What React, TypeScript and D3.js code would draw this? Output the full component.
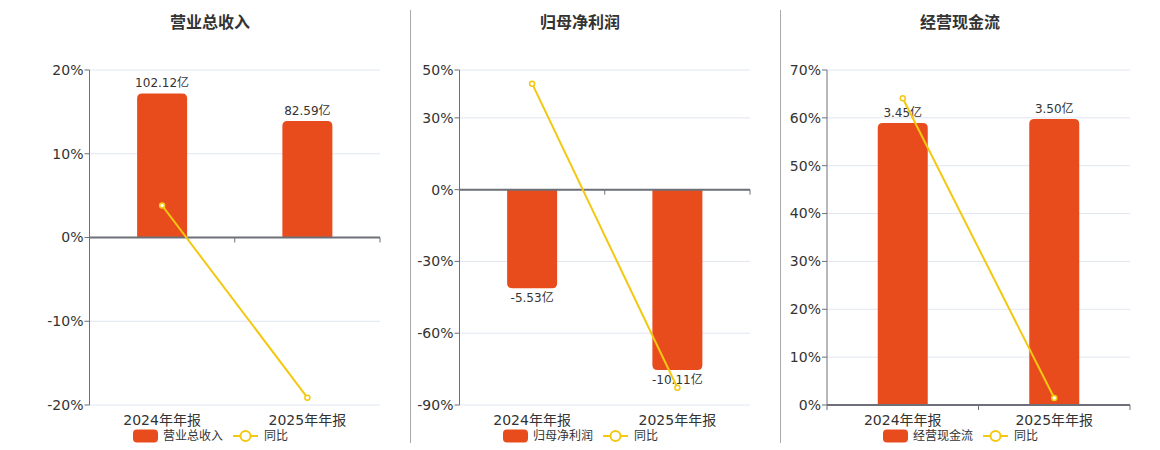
import React from 'react';
import * as d3 from 'd3';

const categories = ['2024年年报', '2025年年报'];

const revenueValues = [102.12, 82.59];
const revenueYoy = [3.82, -19.12];
const revenueTicks = [-20, -10, 0, 10, 20];

const profitValues = [-5.53, -10.11];
const profitYoy = [44.3, -82.8];
const profitTicks = [-90, -60, -30, 0, 30, 50];

const cashValues = [3.45, 3.5];
const cashYoy = [64.1, 1.45];
const cashTicks = [0, 10, 20, 30, 40, 50, 60, 70];

const BAR_COLOR = '#E84C1D';
const LINE_COLOR = '#F3C811';
const AXIS_COLOR = '#6E7079';
const GRID_COLOR = '#E0E6F1';
const TEXT_COLOR = '#333';
const FONT = 'DejaVu Sans, "Noto Sans CJK SC", sans-serif';

interface PanelProps {
  title: string;
  values: number[];
  yoy: number[];
  ticks: number[];
  barDomain: [number, number];
  left: number;
  right: number;
  center: number;
}

const TOP = 70;
const BOTTOM = 405;
const BAR_W = 50;
const R = 5;

// bar with rounded corners at the far end
const barPath = (x: number, y0: number, y1: number) => {
  const w = BAR_W;
  if (y1 < y0) {
    const r = Math.min(R, y0 - y1);
    return `M${x},${y0}V${y1 + r}Q${x},${y1} ${x + r},${y1}H${x + w - r}Q${x + w},${y1} ${x + w},${y1 + r}V${y0}Z`;
  }
  const r = Math.min(R, y1 - y0);
  return `M${x},${y0}V${y1 - r}Q${x},${y1} ${x + r},${y1}H${x + w - r}Q${x + w},${y1} ${x + w},${y1 - r}V${y0}Z`;
};

const Panel: React.FC<PanelProps> = ({ title, values, yoy, ticks, barDomain, left, right, center }) => {
  const x = d3.scaleBand<string>().domain(categories).range([left, right]).padding(0);
  const y = d3
    .scaleLinear()
    .domain([d3.min(ticks)!, d3.max(ticks)!])
    .range([BOTTOM, TOP]);
  const yBar = d3.scaleLinear().domain(barDomain).range([BOTTOM, TOP]);
  const zero = y(0);

  const line = d3
    .line<number>()
    .x((_, i) => x(categories[i])! + x.bandwidth() / 2)
    .y((d) => y(d));

  const legendLeft = center - 77;

  return (
    <g fontFamily={FONT}>
      <text x={center} y={28} textAnchor="middle" fontSize={16} fontWeight="bold" fill={TEXT_COLOR}>
        {title}
      </text>

      {/* grid */}
      {ticks.map((t) => (
        <g key={t}>
          <line x1={left} x2={right} y1={y(t)} y2={y(t)} stroke={GRID_COLOR} />
          <line x1={left - 5} x2={left} y1={y(t)} y2={y(t)} stroke={AXIS_COLOR} />
          <text x={left - 6} y={y(t)} dy="0.35em" textAnchor="end" fontSize={14} fill={TEXT_COLOR}>
            {t}%
          </text>
        </g>
      ))}

      {/* bars */}
      {values.map((v, i) => {
        const bx = x(categories[i])! + (x.bandwidth() - BAR_W) / 2;
        const by = yBar(v);
        const base = yBar(0);
        return (
          <g key={i}>
            <path d={barPath(bx, base, by)} fill={BAR_COLOR} />
            <text
              x={bx + BAR_W / 2}
              y={v >= 0 ? by - 6 : by + 10}
              textAnchor="middle"
              fontSize={12}
              fill={TEXT_COLOR}
              dy={v >= 0 ? 0 : '0.35em'}
            >
              {v.toFixed(2)}亿
            </text>
          </g>
        );
      })}

      {/* axes */}
      <line x1={left} x2={left} y1={TOP} y2={BOTTOM} stroke={AXIS_COLOR} />
      <line x1={left} x2={right} y1={zero} y2={zero} stroke={AXIS_COLOR} strokeWidth={2} />
      {[left, left + x.bandwidth(), right].map((tx, i) => (
        <line key={i} x1={tx} x2={tx} y1={zero} y2={zero + 5} stroke={AXIS_COLOR} />
      ))}
      {categories.map((c) => (
        <text
          key={c}
          x={x(c)! + x.bandwidth() / 2}
          y={425}
          textAnchor="middle"
          fontSize={14}
          fill={TEXT_COLOR}
        >
          {c}
        </text>
      ))}

      {/* yoy line */}
      <path d={line(yoy)!} fill="none" stroke={LINE_COLOR} strokeWidth={2} />
      {yoy.map((v, i) => (
        <circle
          key={i}
          cx={x(categories[i])! + x.bandwidth() / 2}
          cy={y(v)}
          r={2.5}
          fill="#fff"
          stroke={LINE_COLOR}
          strokeWidth={1.5}
        />
      ))}

      {/* legend */}
      <rect x={legendLeft} y={429.5} width={25} height={13} rx={4} fill={BAR_COLOR} />
      <text x={legendLeft + 30} y={436} dy="0.35em" fontSize={12} fill={TEXT_COLOR}>
        {title}
      </text>
      <line x1={legendLeft + 100} x2={legendLeft + 125} y1={436} y2={436} stroke={LINE_COLOR} strokeWidth={2} />
      <circle cx={legendLeft + 112.5} cy={436} r={5} fill="#fff" stroke={LINE_COLOR} strokeWidth={2} />
      <text x={legendLeft + 131} y={436} dy="0.35em" fontSize={12} fill={TEXT_COLOR}>
        同比
      </text>
    </g>
  );
};

const App: React.FC = () => {
  return (
    <div style={{ position: 'absolute', left: 0, top: 0 }}>
      <svg width={1160} height={450} style={{ display: 'block', background: '#fff' }}>
        <Panel
          title="营业总收入"
          values={revenueValues}
          yoy={revenueYoy}
          ticks={revenueTicks}
          barDomain={[-118.7, 118.7]}
          left={89.5}
          right={380}
          center={210}
        />
        <line x1={410.5} x2={410.5} y1={10} y2={443} stroke="#aaa" />
        <Panel
          title="归母净利润"
          values={profitValues}
          yoy={profitYoy}
          ticks={profitTicks}
          barDomain={[-12.08, 6.71]}
          left={459.5}
          right={750}
          center={580}
        />
        <line x1={780.5} x2={780.5} y1={10} y2={443} stroke="#aaa" />
        <Panel
          title="经营现金流"
          values={cashValues}
          yoy={cashYoy}
          ticks={cashTicks}
          barDomain={[0, 4.1]}
          left={827}
          right={1130}
          center={960}
        />
      </svg>
    </div>
  );
};

export default App;
